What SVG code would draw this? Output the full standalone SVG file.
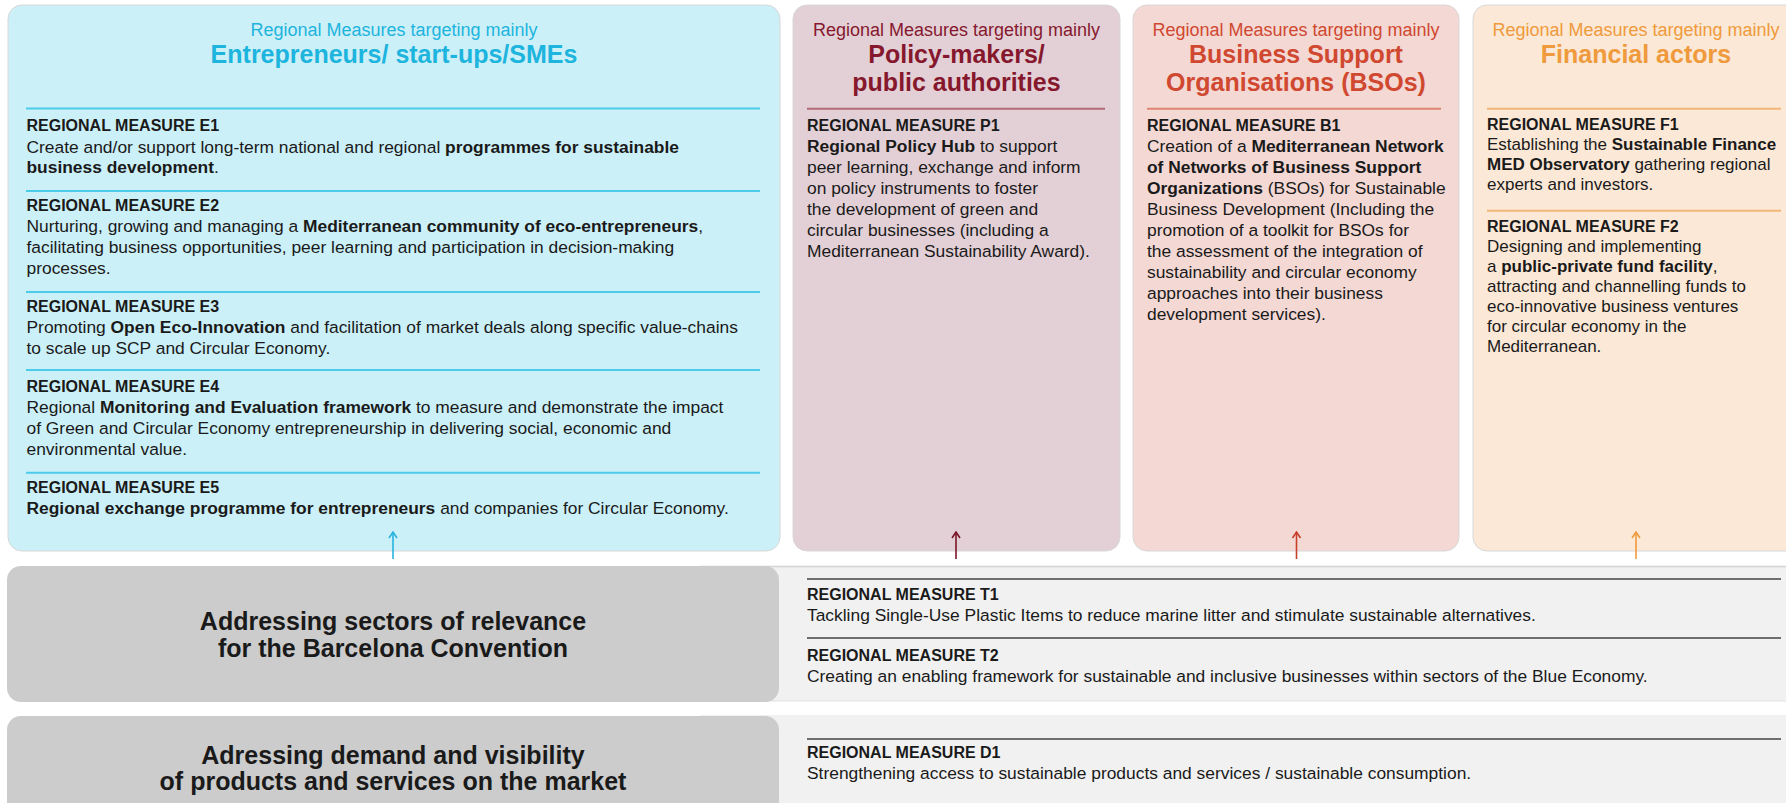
<svg xmlns="http://www.w3.org/2000/svg" width="1786" height="803" viewBox="0 0 1786 803">
<style>
text{font-family:"Liberation Sans",Arial,sans-serif;fill:#1a1a1a}
.sub{font-size:18px;text-anchor:middle}
.ttl{font-size:25px;font-weight:700;text-anchor:middle}
.h{font-size:16px;font-weight:700}
.t{font-size:17.4px}
.tf{font-size:17px}
.k{font-weight:700}
.bt{font-size:25px;font-weight:700;text-anchor:middle}
.cE{fill:#1db4de}.cP{fill:#86182e}.cB{fill:#d04830}.cF{fill:#ef9a3c}
.panel{stroke:#d8d8d8;stroke-width:1}
.sE{stroke:#4ccbeb;stroke-width:2}.sP{stroke:#b36a77;stroke-width:2}.sB{stroke:#e08472;stroke-width:2}.sF{stroke:#f2b777;stroke-width:2}
.sG{stroke:#6e6e6e;stroke-width:2}
</style>
<defs>
<marker id="aE" viewBox="0 0 10 10" refX="9" refY="5" markerWidth="10" markerHeight="10" markerUnits="userSpaceOnUse" orient="auto"><path d="M3,1 L9,5 L3,9" fill="none" stroke="#29b3df" stroke-width="1.6"/></marker>
<marker id="aP" viewBox="0 0 10 10" refX="9" refY="5" markerWidth="10" markerHeight="10" markerUnits="userSpaceOnUse" orient="auto"><path d="M3,1 L9,5 L3,9" fill="none" stroke="#7a1428" stroke-width="1.6"/></marker>
<marker id="aB" viewBox="0 0 10 10" refX="9" refY="5" markerWidth="10" markerHeight="10" markerUnits="userSpaceOnUse" orient="auto"><path d="M3,1 L9,5 L3,9" fill="none" stroke="#c8402a" stroke-width="1.6"/></marker>
<marker id="aF" viewBox="0 0 10 10" refX="9" refY="5" markerWidth="10" markerHeight="10" markerUnits="userSpaceOnUse" orient="auto"><path d="M3,1 L9,5 L3,9" fill="none" stroke="#ef9a3c" stroke-width="1.6"/></marker>
</defs>
<rect width="1786" height="803" fill="#ffffff"/>

<g id="panel-E">
<rect class="panel" x="8" y="5" width="772" height="546" rx="14" fill="#ccf0f8"/>
<text class="sub cE" x="394" y="36">Regional Measures targeting mainly</text>
<text class="ttl cE" x="394" y="63">Entrepreneurs/ start-ups/SMEs</text>
<line class="sE" x1="26" y1="108.5" x2="760" y2="108.5"/>
<text class="h" x="26.5" y="131">REGIONAL MEASURE E1</text>
<text class="t" x="26.5" y="152.7">Create and/or support long-term national and regional <tspan class="k">programmes for sustainable</tspan></text>
<text class="t" x="26.5" y="173.3"><tspan class="k">business development</tspan>.</text>
<line class="sE" x1="26" y1="191" x2="760" y2="191"/>
<text class="h" x="26.5" y="211">REGIONAL MEASURE E2</text>
<text class="t" x="26.5" y="232.3">Nurturing, growing and managing a <tspan class="k">Mediterranean community of eco-entrepreneurs</tspan>,</text>
<text class="t" x="26.5" y="253.3">facilitating business opportunities, peer learning and participation in decision-making</text>
<text class="t" x="26.5" y="274">processes.</text>
<line class="sE" x1="26" y1="292" x2="760" y2="292"/>
<text class="h" x="26.5" y="312.3">REGIONAL MEASURE E3</text>
<text class="t" x="26.5" y="333.3">Promoting <tspan class="k">Open Eco-Innovation</tspan> and facilitation of market deals along specific value-chains</text>
<text class="t" x="26.5" y="354">to scale up SCP and Circular Economy.</text>
<line class="sE" x1="26" y1="370" x2="760" y2="370"/>
<text class="h" x="26.5" y="392.3">REGIONAL MEASURE E4</text>
<text class="t" x="26.5" y="413.3">Regional <tspan class="k">Monitoring and Evaluation framework</tspan> to measure and demonstrate the impact</text>
<text class="t" x="26.5" y="434">of Green and Circular Economy entrepreneurship in delivering social, economic and</text>
<text class="t" x="26.5" y="455">environmental value.</text>
<line class="sE" x1="26" y1="472.7" x2="760" y2="472.7"/>
<text class="h" x="26.5" y="493.3">REGIONAL MEASURE E5</text>
<text class="t" x="26.5" y="514.3"><tspan class="k">Regional exchange programme for entrepreneurs</tspan> and companies for Circular Economy.</text>
</g>

<g id="panel-P">
<rect class="panel" x="793" y="5" width="327" height="546" rx="14" fill="#e3d0d6"/>
<text class="sub cP" x="956.5" y="36">Regional Measures targeting mainly</text>
<text class="ttl cP" x="956.5" y="63.3">Policy-makers/</text>
<text class="ttl cP" x="956.5" y="90.7">public authorities</text>
<line class="sP" x1="807" y1="108.7" x2="1105" y2="108.7"/>
<text class="h" x="807" y="131">REGIONAL MEASURE P1</text>
<text class="t" x="807" y="151.7"><tspan class="k">Regional Policy Hub</tspan> to support</text>
<text class="t" x="807" y="172.7">peer learning, exchange and inform</text>
<text class="t" x="807" y="193.5">on policy instruments to foster</text>
<text class="t" x="807" y="214.5">the development of green and</text>
<text class="t" x="807" y="235.5">circular businesses (including a</text>
<text class="t" x="807" y="256.5">Mediterranean Sustainability Award).</text>
</g>

<g id="panel-B">
<rect class="panel" x="1133" y="5" width="326" height="546" rx="14" fill="#f3d8d4"/>
<text class="sub cB" x="1296" y="36">Regional Measures targeting mainly</text>
<text class="ttl cB" x="1296" y="63.3">Business Support</text>
<text class="ttl cB" x="1296" y="90.7">Organisations (BSOs)</text>
<line class="sB" x1="1147" y1="108.7" x2="1441" y2="108.7"/>
<text class="h" x="1147" y="131">REGIONAL MEASURE B1</text>
<text class="t" x="1147" y="151.7">Creation of a <tspan class="k">Mediterranean Network</tspan></text>
<text class="t" x="1147" y="172.7"><tspan class="k">of Networks of Business Support</tspan></text>
<text class="t" x="1147" y="193.5"><tspan class="k">Organizations</tspan> (BSOs) for Sustainable</text>
<text class="t" x="1147" y="214.5">Business Development (Including the</text>
<text class="t" x="1147" y="235.5">promotion of a toolkit for BSOs for</text>
<text class="t" x="1147" y="256.5">the assessment of the integration of</text>
<text class="t" x="1147" y="277.5">sustainability and circular economy</text>
<text class="t" x="1147" y="298.5">approaches into their business</text>
<text class="t" x="1147" y="319.5">development services).</text>
</g>

<g id="panel-F">
<rect class="panel" x="1473" y="5" width="340" height="546" rx="14" fill="#fbe8d6"/>
<text class="sub cF" x="1636" y="36">Regional Measures targeting mainly</text>
<text class="ttl cF" x="1636" y="63">Financial actors</text>
<line class="sF" x1="1487" y1="108.7" x2="1781" y2="108.7"/>
<text class="h" x="1487" y="130">REGIONAL MEASURE F1</text>
<text class="tf" x="1487" y="150">Establishing the <tspan class="k">Sustainable Finance</tspan></text>
<text class="tf" x="1487" y="170"><tspan class="k">MED Observatory</tspan> gathering regional</text>
<text class="tf" x="1487" y="190">experts and investors.</text>
<line class="sF" x1="1487" y1="210.7" x2="1781" y2="210.7"/>
<text class="h" x="1487" y="231.7">REGIONAL MEASURE F2</text>
<text class="tf" x="1487" y="251.7">Designing and implementing</text>
<text class="tf" x="1487" y="271.7">a <tspan class="k">public-private fund facility</tspan>,</text>
<text class="tf" x="1487" y="291.7">attracting and channelling funds to</text>
<text class="tf" x="1487" y="311.7">eco-innovative business ventures</text>
<text class="tf" x="1487" y="331.7">for circular economy in the</text>
<text class="tf" x="1487" y="351.7">Mediterranean.</text>
</g>

<g id="band-T">
<rect x="700" y="566" width="1090" height="135" fill="#f1f1f1"/>
<line x1="700" y1="566.5" x2="1786" y2="566.5" stroke="#d4d4d4" stroke-width="1.5"/>
<line x1="700" y1="701" x2="1786" y2="701" stroke="#e2e2e2" stroke-width="1"/>
<rect x="7" y="566" width="772" height="136" rx="14" fill="#cccccc"/>
<text class="bt" x="393" y="630">Addressing sectors of relevance</text>
<text class="bt" x="393" y="657.3">for the Barcelona Convention</text>
<line class="sG" x1="807" y1="579" x2="1781" y2="579"/>
<text class="h" x="807" y="600">REGIONAL MEASURE T1</text>
<text class="t" x="807" y="621">Tackling Single-Use Plastic Items to reduce marine litter and stimulate sustainable alternatives.</text>
<line class="sG" x1="807" y1="638" x2="1781" y2="638"/>
<text class="h" x="807" y="661">REGIONAL MEASURE T2</text>
<text class="t" x="807" y="682">Creating an enabling framework for sustainable and inclusive businesses within sectors of the Blue Economy.</text>
</g>

<g id="band-D">
<rect x="700" y="715" width="1090" height="95" fill="#f1f1f1"/>
<rect x="7" y="716" width="772" height="110" rx="14" fill="#cccccc"/>
<text class="bt" x="393" y="764">Adressing demand and visibility</text>
<text class="bt" x="393" y="790">of products and services on the market</text>
<line class="sG" x1="807" y1="739" x2="1781" y2="739"/>
<text class="h" x="807" y="758">REGIONAL MEASURE D1</text>
<text class="t" x="807" y="779">Strengthening access to sustainable products and services / sustainable consumption.</text>
</g>

<g id="connectors" fill="none" stroke-width="1.6">
<path d="M393,559 V532" stroke="#29b3df" marker-end="url(#aE)"/>
<path d="M956,559 V532" stroke="#7a1428" marker-end="url(#aP)"/>
<path d="M1296.5,559 V532" stroke="#c8402a" marker-end="url(#aB)"/>
<path d="M1636,559 V532" stroke="#ef9a3c" marker-end="url(#aF)"/>
</g>
</svg>
